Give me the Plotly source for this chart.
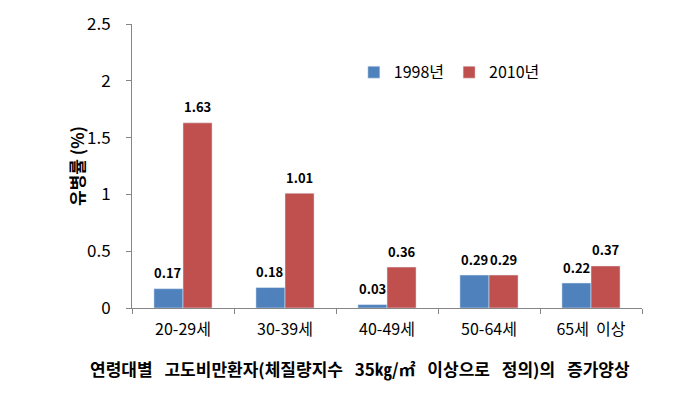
import plotly.graph_objects as go

categories = ["20-29세", "30-39세", "40-49세", "50-64세", "65세\u00a0\u00a0이상"]
v1998 = [0.17, 0.18, 0.03, 0.29, 0.22]
v2010 = [1.63, 1.01, 0.36, 0.29, 0.37]
series_names = ["1998년", "2010년"]
y_ticks = [0, 0.5, 1, 1.5, 2, 2.5]
y_tick_labels = ["0", "0.5", "1", "1.5", "2", "2.5"]

FONT = "Noto Sans CJK KR"
COLORS = ["#4F81BD", "#C0504D"]
BARGAP = 0.43
PLOT_W = 510

fig = go.Figure()
for name, vals, col in zip(series_names, [v1998, v2010], COLORS):
    fig.add_bar(x=categories, y=vals, name=name, marker_color=col)

# value labels placed above each bar via annotations (allows extra gap like the original)
cat_px = PLOT_W / len(categories)
bar_px = cat_px * (1 - BARGAP) / 2
annotations = []
for k, vals in enumerate([v1998, v2010]):
    shift = (k - 0.5) * bar_px
    for c, v in zip(categories, vals):
        annotations.append(dict(
            x=c, y=v, xref="x", yref="y", text=f"<b>{v:.2f}</b>", showarrow=False,
            xshift=shift, yshift=16, xanchor="center", yanchor="middle",
            font=dict(family=FONT, size=13, color="#000000")))

SP = "\u2002\u2009"
caption = SP.join(["연령대별", "고도비만환자(체질량지수", "35㎏/㎡", "이상으로", "정의)의", "증가양상"])

annotations += [
    dict(text="<b>유병률 (%)</b>", xref="paper", yref="paper",
         x=(76 - 132) / PLOT_W, y=(308 - 166) / 284,
         textangle=-90, showarrow=False, font=dict(family=FONT, size=17),
         xanchor="center", yanchor="middle"),
    dict(text="<b>" + caption + "</b>",
         xref="paper", yref="paper", x=(360 - 132) / PLOT_W, y=(308 - 368) / 284,
         showarrow=False, font=dict(family=FONT, size=17),
         xanchor="center", yanchor="middle"),
]

fig.update_layout(
    width=698, height=393,
    margin=dict(l=132, r=56, t=24, b=85, autoexpand=False),
    plot_bgcolor="white", paper_bgcolor="white",
    barmode="group", bargap=BARGAP, bargroupgap=0,
    font=dict(family=FONT, size=15, color="#000000"),
    legend=dict(orientation="h", x=0.435, y=0.83, xanchor="left", yanchor="middle",
                font=dict(family=FONT, size=16), bgcolor="rgba(0,0,0,0)",
                itemwidth=30, tracegroupgap=0),
    xaxis=dict(showline=True, linecolor="#868686", linewidth=1, ticks="outside",
               tickson="boundaries", ticklen=5, tickcolor="#868686",
               tickfont=dict(family=FONT, size=16), showgrid=False,
               ticklabelstandoff=7, automargin=False),
    yaxis=dict(range=[0, 2.5], tickvals=y_ticks, ticktext=y_tick_labels,
               showline=True, linecolor="#868686", linewidth=1, ticks="outside",
               ticklen=5, tickcolor="#868686", showgrid=False, zeroline=False,
               tickfont=dict(family=FONT, size=17), ticklabelstandoff=12,
               automargin=False),
    annotations=annotations,
)

fig.write_html("out.html", config={"displayModeBar": False},
               post_script="document.body.style.margin='0';")
